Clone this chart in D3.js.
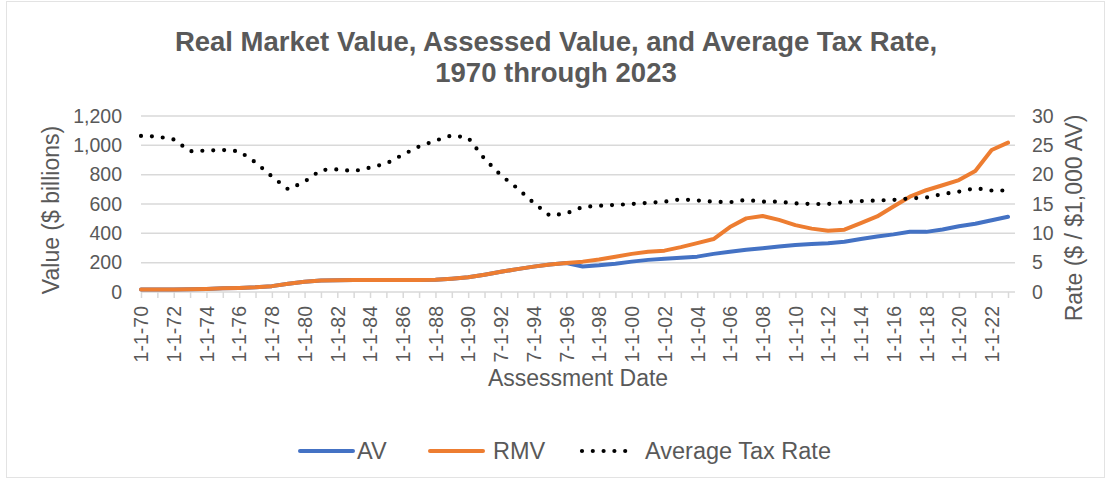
<!DOCTYPE html>
<html>
<head>
<meta charset="utf-8">
<script src="https://cdn.jsdelivr.net/npm/d3@7"></script>
<style>
  html, body { margin: 0; padding: 0; background: #fff; }
  svg { display: block; font-family: "Liberation Sans", Arial, sans-serif; }
</style>
</head>
<body>
<svg id="chart" width="1111" height="480"></svg>
<script>
const categories = [
  "1-1-70","1-1-71","1-1-72","1-1-73","1-1-74","1-1-75","1-1-76","1-1-77","1-1-78","1-1-79",
  "1-1-80","1-1-81","1-1-82","1-1-83","1-1-84","1-1-85","1-1-86","1-1-87","1-1-88","1-1-89",
  "1-1-90","7-1-91","7-1-92","7-1-93","7-1-94","7-1-95","7-1-96","7-1-97","1-1-98","1-1-99",
  "1-1-00","1-1-01","1-1-02","1-1-03","1-1-04","1-1-05","1-1-06","1-1-07","1-1-08","1-1-09",
  "1-1-10","1-1-11","1-1-12","1-1-13","1-1-14","1-1-15","1-1-16","1-1-17","1-1-18","1-1-19",
  "1-1-20","1-1-21","1-1-22","1-1-23"
];
// Values in $ billions
const rmv = [
  17,17,17,18,21,25,28,32,40,56,
  70,78,80,81,81,81,82,82,84,91,
  100,118,138,156,173,188,197,207,221,240,
  260,274,282,306,333,361,443,502,518,492,
  456,432,418,425,470,515,583,650,694,728,
  763,825,968,1018
];
const av = [
  17,17,17,18,21,25,28,32,40,56,
  70,78,80,81,81,81,82,82,84,91,
  100,118,138,156,173,188,197,174,182,193,
  207,219,227,234,241,260,274,288,298,310,
  321,328,333,342,362,378,393,411,410,426,
  448,465,489,513
];
// $ per $1,000 AV
const taxRate = [
  26.6,26.5,26.0,24.0,24.1,24.2,24.0,22.1,19.7,17.5,
  18.8,20.8,20.9,20.6,21.2,21.9,23.4,24.8,25.8,26.7,
  26.3,22.7,19.9,17.7,15.2,13.0,13.4,14.5,14.7,14.85,
  15.0,15.2,15.4,15.8,15.6,15.4,15.3,15.7,15.4,15.4,
  15.1,15.0,15.0,15.35,15.5,15.6,15.7,15.95,16.1,16.7,
  17.1,17.7,17.3,17.3
];
const leftTicks = [0,200,400,600,800,1000,1200];
const rightTicks = [0,5,10,15,20,25,30];
const seriesNames = ["AV","RMV","Average Tax Rate"];

const svg = d3.select("#chart");
const textColor = "#595959";
const gridColor = "#d9d9d9";
const blue = "#4472C4", orange = "#ED7D31";

// chart border
svg.append("rect").attr("x",6.5).attr("y",1.5).attr("width",1098).attr("height",476)
  .attr("fill","none").attr("stroke","#e3e3e3").attr("stroke-width",1);

const x = d3.scalePoint().domain(categories).range([141, 1008]);
const yL = d3.scaleLinear().domain([0,1200]).range([292,116]);
const yR = d3.scaleLinear().domain([0,30]).range([292,116]);
const plotRight = 1015;

// gridlines
svg.append("g").selectAll("line").data(leftTicks.slice(1)).join("line")
  .attr("x1",141).attr("x2",plotRight)
  .attr("y1",d=>yL(d)).attr("y2",d=>yL(d))
  .attr("stroke",gridColor).attr("stroke-width",1.5);

// x axis line + ticks
svg.append("line").attr("x1",141).attr("x2",plotRight).attr("y1",yL(0)).attr("y2",yL(0))
  .attr("stroke",gridColor).attr("stroke-width",1.5);
const xTicks = svg.append("g").attr("transform",`translate(0,${yL(0)})`)
  .call(d3.axisBottom(x).tickSize(6).tickFormat(""));
xTicks.select(".domain").remove();
xTicks.selectAll(".tick line").attr("stroke",gridColor).attr("stroke-width",1.5);

// x labels
const xLab = svg.append("g").attr("transform",`translate(0,${yL(0)})`)
  .call(d3.axisBottom(x).tickValues(categories.filter((d,i)=>i%2===0)).tickSize(0));
xLab.select(".domain").remove();
xLab.selectAll("text")
  .attr("font-size",19.5).attr("fill",textColor)
  .attr("font-family","Liberation Sans, Arial, sans-serif")
  .attr("text-anchor","end")
  .attr("transform","rotate(-90)")
  .attr("x",-14).attr("y",0).attr("dy","0.35em");

// left axis labels
const la = svg.append("g").attr("transform","translate(122,0)")
  .call(d3.axisLeft(yL).tickValues(leftTicks).tickSize(0).tickPadding(0).tickFormat(d3.format(",")));
la.select(".domain").remove();
la.selectAll("text").attr("font-size",19.5).attr("fill",textColor)
  .attr("font-family","Liberation Sans, Arial, sans-serif");

// right axis labels
const ra = svg.append("g").attr("transform","translate(1032,0)")
  .call(d3.axisRight(yR).tickValues(rightTicks).tickSize(0).tickPadding(0));
ra.select(".domain").remove();
ra.selectAll("text").attr("font-size",19.5).attr("fill",textColor)
  .attr("font-family","Liberation Sans, Arial, sans-serif");

// lines
const lineL = d3.line().x((d,i)=>x(categories[i])).y(d=>yL(d));
const lineR = d3.line().x((d,i)=>x(categories[i])).y(d=>yR(d));
svg.append("path").datum(av).attr("d",lineL).attr("fill","none")
  .attr("stroke",blue).attr("stroke-width",4).attr("stroke-linejoin","round").attr("stroke-linecap","round");
svg.append("path").datum(rmv).attr("d",lineL).attr("fill","none")
  .attr("stroke",orange).attr("stroke-width",4).attr("stroke-linejoin","round").attr("stroke-linecap","round");
svg.append("path").datum(taxRate).attr("d",lineR).attr("fill","none")
  .attr("stroke","#000").attr("stroke-width",4.2).attr("stroke-linecap","round")
  .attr("stroke-dasharray","0 10.9");

// title
const title = svg.append("text").attr("x",556).attr("text-anchor","middle")
  .attr("fill",textColor).attr("font-weight","bold").attr("font-size",27.5);
title.append("tspan").attr("x",556).attr("y",51).text("Real Market Value, Assessed Value, and Average Tax Rate,");
title.append("tspan").attr("x",556).attr("y",82).text("1970 through 2023");

// axis titles
svg.append("text").attr("transform","translate(59,210) rotate(-90)").attr("text-anchor","middle")
  .attr("fill",textColor).attr("font-size",23).text("Value ($ billions)");
svg.append("text").attr("transform","translate(1082,218) rotate(-90)").attr("text-anchor","middle")
  .attr("fill",textColor).attr("font-size",23).text("Rate ($ / $1,000 AV)");
svg.append("text").attr("x",578).attr("y",386).attr("text-anchor","middle")
  .attr("fill",textColor).attr("font-size",23).text("Assessment Date");

// legend
const legend = [
  {name: seriesNames[0], x1: 300, x2: 353, tx: 357, color: blue, dash: null},
  {name: seriesNames[1], x1: 430, x2: 483, tx: 493, color: orange, dash: null},
  {name: seriesNames[2], x1: 582, x2: 636, tx: 645, color: "#000", dash: "0 10.8"}
];
const lg = svg.append("g");
legend.forEach(l => {
  const ln = lg.append("line").attr("x1",l.x1).attr("x2",l.x2).attr("y1",451).attr("y2",451)
    .attr("stroke",l.color).attr("stroke-width",l.dash?4.2:4).attr("stroke-linecap","round");
  if (l.dash) ln.attr("stroke-dasharray",l.dash);
  lg.append("text").attr("x",l.tx).attr("y",459).attr("fill",textColor).attr("font-size",23.5).text(l.name);
});
</script>
</body>
</html>
